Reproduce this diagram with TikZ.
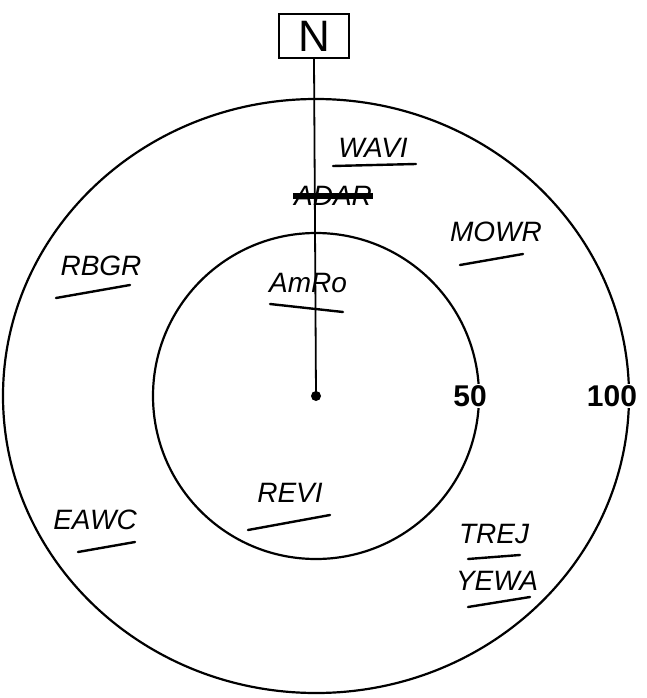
\documentclass[tikz,border=0pt]{standalone}
\usepackage{fontspec}
\setmainfont{Liberation Sans}
\begin{document}
\begin{tikzpicture}[x=1pt,y=-1pt,
  ring/.style={draw=black,line width=2.2pt},
  hand/.style={font=\fontsize{28}{28}\selectfont\itshape,inner sep=1pt},
  scalelabel/.style={font=\fontsize{30}{30}\selectfont\bfseries,fill=white,inner sep=1pt},
  uline/.style={line width=2.4pt,line cap=round}]
\useasboundingbox (0,0) rectangle (646,698);
\coordinate (c) at (316,396);
\draw[ring] (c) ellipse [x radius=313, y radius=297];
\draw[ring] (c) circle [radius=163];
\node[draw,line width=1.8pt,minimum width=70,minimum height=44,inner sep=0,font=\fontsize{44}{44}\selectfont] (north) at (314,36) {N};
\draw[line width=1.8pt] (north.south) -- (c);
\fill (c) circle [radius=5];
\node[scalelabel] (s50) at (470,396) {50};
\node[scalelabel] (s100) at (612,396) {100};
\node[hand] (wavi) at (373,148) {WAVI};
\draw[uline] (333,166) -- (416,164);
\node[hand] (adar) at (333,196) {ADAR};
\draw[line width=6pt] (adar.west) -- (adar.east);
\node[hand] (mowr) at (496,232) {MOWR};
\draw[uline] (460,265) -- (523,254);
\node[hand] (rbgr) at (101,266) {RBGR};
\draw[uline] (56,298) -- (130,285);
\node[hand] (amro) at (308,283) {AmRo};
\draw[uline] (270,304) -- (343,312);
\node[hand] (revi) at (290,493) {REVI};
\draw[uline] (248,530) -- (330,515);
\node[hand] (eawc) at (95,520) {EAWC};
\draw[uline] (78,552) -- (135,542);
\node[hand] (trej) at (494,534) {TREJ};
\draw[uline] (468,559) -- (520,555);
\node[hand] (yewa) at (497,581) {YEWA};
\draw[uline] (468,607) -- (530,597);
\end{tikzpicture}
\end{document}
